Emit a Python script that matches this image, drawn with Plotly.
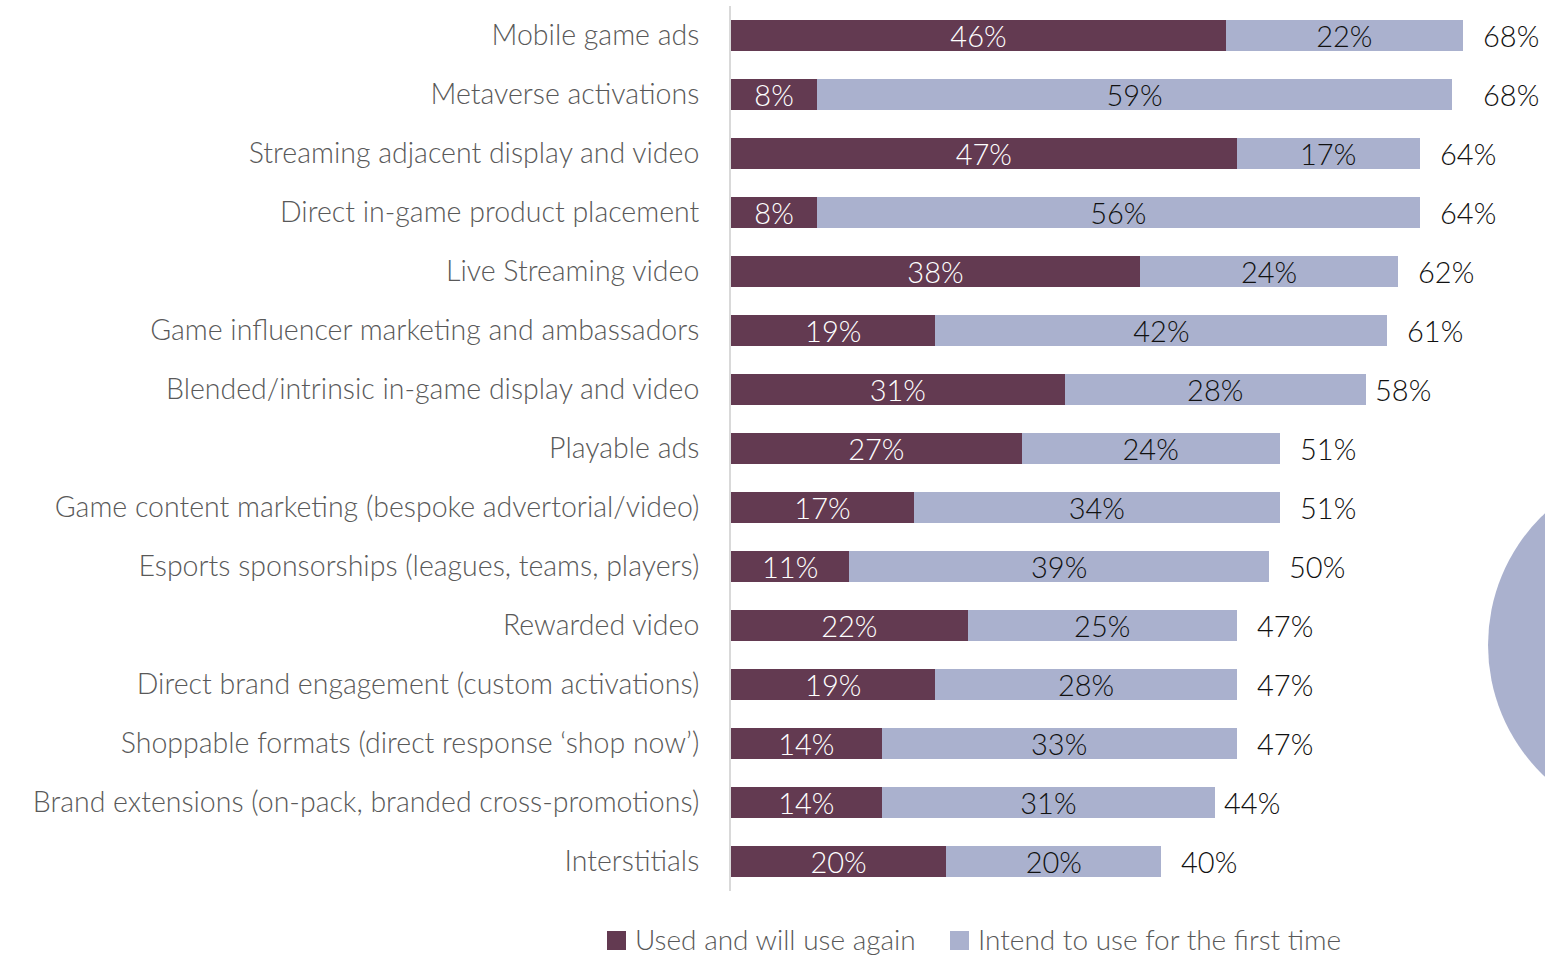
import plotly.graph_objects as go

# Survey data: share of respondents per gaming ad format
categories = [
    "Mobile game ads",
    "Metaverse activations",
    "Streaming adjacent display and video",
    "Direct in-game product placement",
    "Live Streaming video",
    "Game influencer marketing and ambassadors",
    "Blended/intrinsic in-game display and video",
    "Playable ads",
    "Game content marketing (bespoke advertorial/video)",
    "Esports sponsorships (leagues, teams, players)",
    "Rewarded video",
    "Direct brand engagement (custom activations)",
    "Shoppable formats (direct response \u2018shop now\u2019)",
    "Brand extensions (on-pack, branded cross-promotions)",
    "Interstitials",
]
used_again = [46, 8, 47, 8, 38, 19, 31, 27, 17, 11, 22, 19, 14, 14, 20]
first_time = [22, 59, 17, 56, 24, 42, 28, 24, 34, 39, 25, 28, 33, 31, 20]
totals = [68, 68, 64, 64, 62, 61, 58, 51, 51, 50, 47, 47, 47, 44, 40]
series_names = ["Used and will use again", "Intend to use for the first time"]

MAROON = "#633A51"
LAVENDER = "#AAB1CE"
FONT = "Lato"
LABEL_SIZE = 28.5
NUM_SIZE = 29

W, H = 1545, 958
L, R, T, B = 731, 0, 6, 67
pw, ph = W - L - R, H - T - B
def px(x): return (x - L) / pw
def py(y): return (H - B - y) / ph

fig = go.Figure()
for vals, name, color, txtcol in [
    (used_again, series_names[0], MAROON, "white"),
    (first_time, series_names[1], LAVENDER, "#111111"),
]:
    fig.add_trace(go.Bar(
        y=categories, x=vals, orientation="h", name=name,
        marker=dict(color=color, line=dict(width=0)),
        text=[f"{v}%" for v in vals], textposition="inside",
        insidetextanchor="middle", textangle=0, constraintext="none",
        textfont=dict(family=FONT, size=NUM_SIZE, color=txtcol, weight=300),
        hoverinfo="skip", showlegend=False,
    ))

# Total labels to the right of each stacked bar
for cat, tot in zip(categories, totals):
    fig.add_annotation(
        x=tot, y=cat, text=f"{tot}%", showarrow=False,
        xanchor="left", xshift=18,
        font=dict(family=FONT, size=NUM_SIZE, color="#111111", weight=300),
    )

# Decorative circle at the right edge
cx, cy, r = 1669, 645, 181
fig.add_shape(
    type="circle", xref="paper", yref="paper",
    x0=px(cx - r), x1=px(cx + r), y0=py(cy + r), y1=py(cy - r),
    fillcolor=LAVENDER, line=dict(width=0), layer="below",
)

# Legend drawn below the chart: square swatch followed by series name
legend_items = [(607, MAROON, series_names[0]), (950, LAVENDER, series_names[1])]
for x0, color, name in legend_items:
    fig.add_shape(
        type="rect", xref="paper", yref="paper",
        x0=px(x0), x1=px(x0 + 19), y0=py(950), y1=py(931),
        fillcolor=color, line=dict(width=0),
    )
    fig.add_annotation(
        xref="paper", yref="paper", x=px(x0 + 26), y=py(939),
        xanchor="left", yanchor="middle", text=name, showarrow=False,
        font=dict(family=FONT, size=28, color="#595959", weight=300),
    )

fig.update_layout(
    width=W, height=H,
    margin=dict(l=L, r=R, t=T, b=B, pad=0, autoexpand=False),
    barmode="stack", bargap=0.49,
    plot_bgcolor="white", paper_bgcolor="white",
    font=dict(family=FONT, size=LABEL_SIZE, color="#595959", weight=300),
    showlegend=False,
)
fig.update_xaxes(range=[0, pw / 10.76], visible=False, fixedrange=True)
fig.update_yaxes(
    categoryorder="array", categoryarray=categories, autorange="reversed",
    showline=True, linecolor="#D9D9D9", linewidth=2, ticks="",
    ticklabelstandoff=24, showgrid=False, zeroline=False,
    tickfont=dict(family=FONT, size=LABEL_SIZE, color="#595959", weight=300),
)

fig.write_html("out.html")
